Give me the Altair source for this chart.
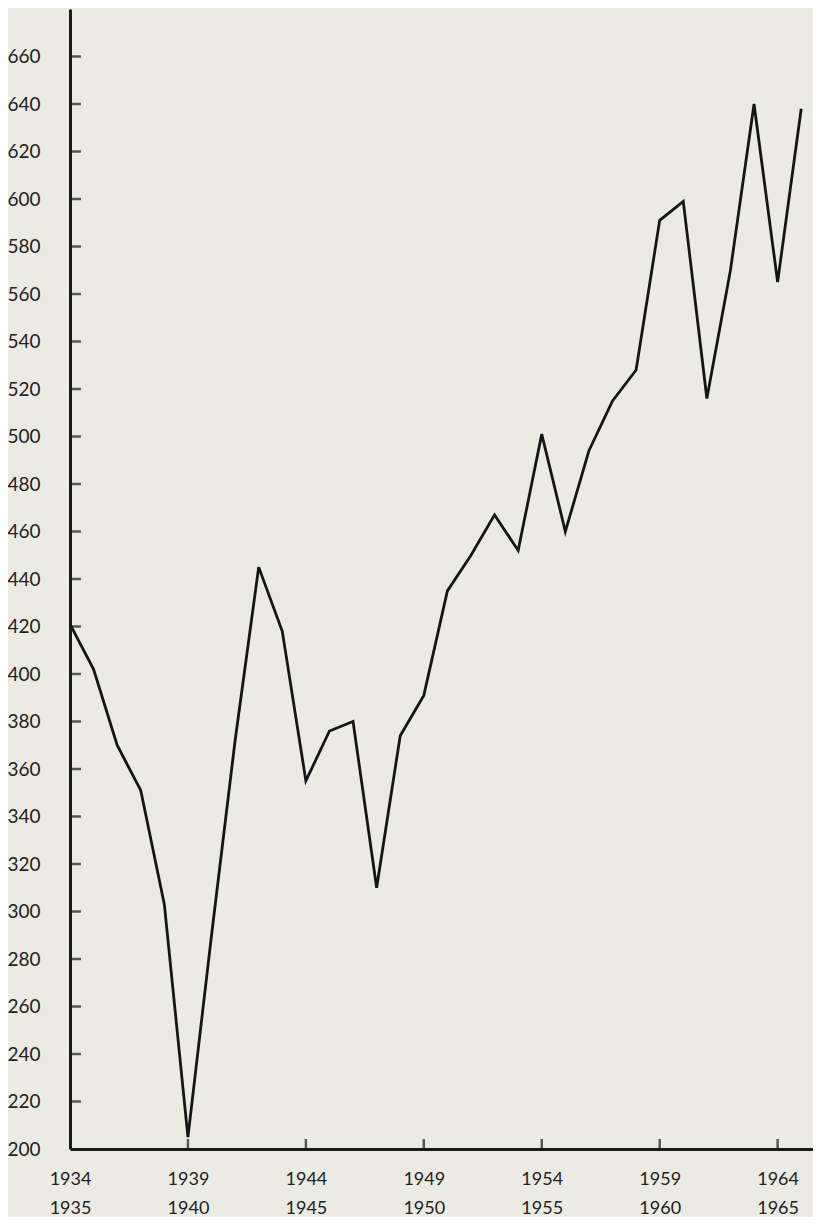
import altair as alt
import pandas as pd

years = list(range(1934, 1966))
values = [421, 402, 370, 351, 303, 205, 290, 372, 445, 418, 355, 376, 380, 310,
          374, 391, 435, 450, 467, 452, 501, 460, 494, 515, 528, 591, 599, 516,
          570, 640, 565, 638]
y_ticks = list(range(200, 661, 20))
x_ticks = [1934, 1939, 1944, 1949, 1954, 1959, 1964]

W, H = 743, 1140
FONT = "Lato"

df = pd.DataFrame({"year": years, "value": values})
ydf = pd.DataFrame({"v": y_ticks[1:]})
xdf = pd.DataFrame({"yr": x_ticks[1:]})

xscale = alt.Scale(domain=[1934, 1965.5], nice=False, zero=False)
yscale = alt.Scale(domain=[200, 680], nice=False, zero=False)

line = alt.Chart(df).mark_line(color="#151515", strokeWidth=2.8, strokeJoin="miter").encode(
    x=alt.X("year:Q", scale=xscale, title=None,
            axis=alt.Axis(values=x_ticks, grid=False, ticks=False, domainColor="#1a1a1a",
                          domainWidth=3, labelFont=FONT, labelFontSize=18, labelColor="#222",
                          labelPadding=21, labelLineHeight=29, labelBaseline="top",
                          labelFlush=False, labelOverlap=False,
                          labelExpr="['' + datum.value, '' + (datum.value + 1)]")),
    y=alt.Y("value:Q", scale=yscale, title=None,
            axis=alt.Axis(values=y_ticks, grid=False, ticks=False, domainColor="#1a1a1a",
                          domainWidth=3, labelFont=FONT, labelFontSize=19, labelColor="#222",
                          labelPadding=30, labelFlush=False, labelOverlap=False)),
)

yt = alt.Chart(ydf).mark_tick(color="#1a1a1a", thickness=2.5, size=11, orient="horizontal").encode(
    y=alt.Y("v:Q", scale=yscale, title=None), x=alt.value(5.5))

xt = alt.Chart(xdf).mark_tick(color="#1a1a1a", thickness=2.5, size=10, orient="vertical").encode(
    x=alt.X("yr:Q", scale=xscale, title=None), y=alt.value(H - 5))

chart = alt.layer(line, xt, yt).properties(
    width=W, height=H, background="#ecebe3",
    autosize=alt.AutoSizeParams(type="none"),
    padding={"left": 62, "top": 1, "right": 0, "bottom": 68},
).configure_view(stroke=None)

chart.save("out.html", embed_options={"renderer": "svg", "actions": False})
